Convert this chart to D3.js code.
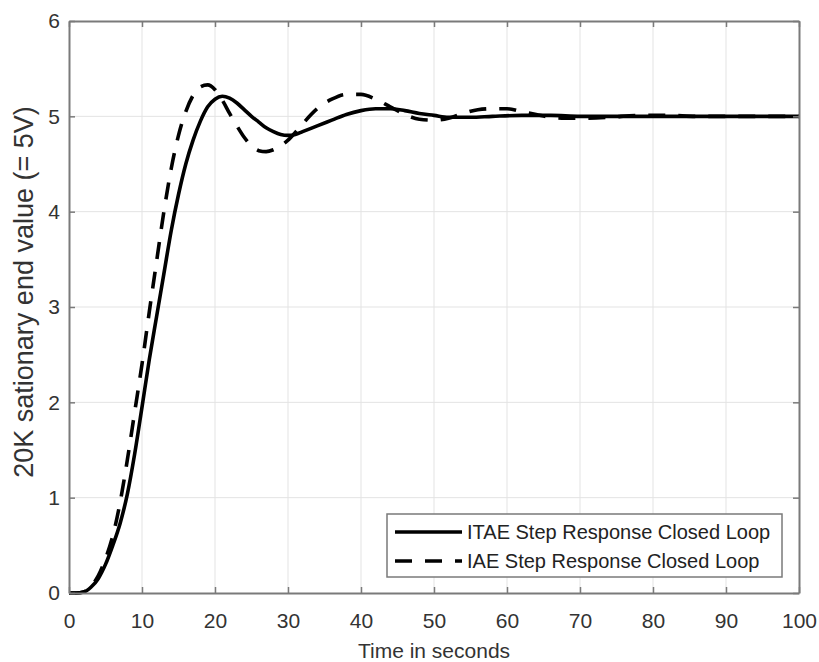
<!DOCTYPE html>
<html lang="en">
<head>
  <meta charset="UTF-8">
  <title>Step Response Closed Loop</title>
  <script src="https://d3js.org/d3.v7.min.js"></script>
  <style>
    body { margin: 0; background: #fff; }
    svg { font-family: "Liberation Sans", Arial, sans-serif; }
  </style>
</head>
<body>
<div id="chart"></div>
<script>
  // time axis samples (seconds) and values (V)
  const itaeTime = [0, 1, 2, 3, 4, 5, 6, 7, 8, 9, 10, 11, 12, 13, 14, 15, 16, 17, 18, 19, 20, 21, 22, 23, 24, 25, 26, 27, 28, 29, 30, 31, 32, 34, 36, 38, 40, 42, 44, 46, 48, 50, 52, 55, 58, 62, 66, 70, 80, 90, 100];
  const itaeValue = [0, 0, 0.01, 0.06, 0.15, 0.3, 0.5, 0.73, 1.04, 1.46, 1.95, 2.45, 2.9, 3.35, 3.8, 4.18, 4.5, 4.75, 4.95, 5.1, 5.18, 5.21, 5.19, 5.14, 5.07, 5.0, 4.94, 4.88, 4.84, 4.81, 4.8, 4.81, 4.84, 4.9, 4.96, 5.02, 5.06, 5.08, 5.08, 5.06, 5.03, 5.01, 4.99, 4.99, 5.0, 5.01, 5.01, 5.0, 5.0, 5.0, 5.0];

  const iaeTime = [0, 1, 2, 3, 4, 5, 6, 7, 8, 9, 10, 11, 12, 13, 14, 15, 16, 17, 18, 19, 20, 21, 22, 23, 24, 25, 26, 27, 28, 29, 30, 31, 32, 34, 36, 38, 40, 42, 44, 46, 48, 50, 52, 54, 56, 58, 60, 62, 64, 66, 68, 70, 74, 78, 82, 86, 100];
  const iaeValue = [0, 0, 0.01, 0.07, 0.18, 0.36, 0.6, 0.95, 1.4, 1.9, 2.4, 2.95, 3.48, 4.0, 4.45, 4.8, 5.05, 5.22, 5.31, 5.33, 5.28, 5.17, 5.03, 4.9, 4.78, 4.69, 4.64, 4.63, 4.65, 4.69, 4.75, 4.83, 4.92, 5.08, 5.18, 5.23, 5.23, 5.18, 5.1, 5.02, 4.97, 4.96, 4.98, 5.03, 5.07, 5.08, 5.08, 5.05, 5.02, 4.99, 4.98, 4.98, 4.99, 5.01, 5.01, 5.0, 5.0];

  const xTicks = [0, 10, 20, 30, 40, 50, 60, 70, 80, 90, 100];
  const yTicks = [0, 1, 2, 3, 4, 5, 6];
  const seriesNames = ["ITAE Step Response Closed Loop", "IAE Step Response Closed Loop"];

  const W = 819, H = 662;
  const margin = { top: 21, right: 20, bottom: 69, left: 69 };
  const width = W - margin.left - margin.right,
        height = H - margin.top - margin.bottom;

  const svg = d3.select("#chart").append("svg")
    .attr("width", W)
    .attr("height", H);

  const g = svg.append("g")
    .attr("transform", `translate(${margin.left},${margin.top})`);

  const x = d3.scaleLinear().domain([0, 100]).range([0, width]);
  const y = d3.scaleLinear().domain([0, 6]).range([height, 0]);

  const axisColor = "#7a7a7a";

  // grid
  g.append("g").selectAll("line")
    .data(xTicks.slice(1, -1))
    .join("line")
    .attr("x1", d => x(d)).attr("x2", d => x(d))
    .attr("y1", 0).attr("y2", height)
    .attr("stroke", "#e3e3e3").attr("stroke-width", 1);
  g.append("g").selectAll("line")
    .data(yTicks.slice(1, -1))
    .join("line")
    .attr("y1", d => y(d)).attr("y2", d => y(d))
    .attr("x1", 0).attr("x2", width)
    .attr("stroke", "#e3e3e3").attr("stroke-width", 1);

  // curves
  const line = d3.line()
    .x(d => x(d[0]))
    .y(d => y(d[1]))
    .curve(d3.curveMonotoneX);

  const itae = itaeTime.map((t, i) => [t, itaeValue[i]]);
  const iae = iaeTime.map((t, i) => [t, iaeValue[i]]);

  g.append("path")
    .datum(itae)
    .attr("fill", "none")
    .attr("stroke", "#000")
    .attr("stroke-width", 3.6)
    .attr("d", line);

  g.append("path")
    .datum(iae)
    .attr("fill", "none")
    .attr("stroke", "#000")
    .attr("stroke-width", 3.6)
    .attr("stroke-dasharray", "17,13")
    .attr("d", line);

  // axes (MATLAB style: inward ticks on all four sides)
  const fontSize = "21px";
  const axBottom = g.append("g")
    .attr("transform", `translate(0,${height})`)
    .call(d3.axisBottom(x).tickValues(xTicks).tickSizeInner(-6).tickSizeOuter(0).tickPadding(20));
  const axTop = g.append("g")
    .call(d3.axisTop(x).tickValues(xTicks).tickSizeInner(-6).tickSizeOuter(0).tickFormat(""));
  const axLeft = g.append("g")
    .call(d3.axisLeft(y).tickValues(yTicks).tickSizeInner(-6).tickSizeOuter(0).tickPadding(9).tickFormat(d3.format("d")));
  const axRight = g.append("g")
    .attr("transform", `translate(${width},0)`)
    .call(d3.axisRight(y).tickValues(yTicks).tickSizeInner(-6).tickSizeOuter(0).tickFormat(""));

  [axBottom, axTop, axLeft, axRight].forEach(a => {
    a.select(".domain").attr("stroke", axisColor).attr("stroke-width", 2);
    a.selectAll(".tick line").attr("stroke", axisColor).attr("stroke-width", 1.5);
    a.selectAll(".tick text")
      .attr("fill", "#333")
      .style("font-size", fontSize)
      .style("font-family", "'Liberation Sans', Arial, sans-serif");
  });

  // axis labels
  g.append("text")
    .attr("x", width / 2)
    .attr("y", 658 - margin.top)
    .attr("text-anchor", "middle")
    .attr("fill", "#333")
    .style("font-size", fontSize)
    .text("Time in seconds");

  g.append("text")
    .attr("transform", `translate(${33 - margin.left},${292 - margin.top}) rotate(-90)`)
    .attr("text-anchor", "middle")
    .attr("fill", "#333")
    .style("font-size", "27px")
    .text("20K sationary end value (= 5V)");

  // legend
  const legend = g.append("g")
    .attr("transform", `translate(${387 - margin.left},${514 - margin.top})`);
  legend.append("rect")
    .attr("width", 395).attr("height", 63)
    .attr("fill", "#fff")
    .attr("stroke", axisColor)
    .attr("stroke-width", 1.5);
  seriesNames.forEach((name, i) => {
    const ly = 18 + i * 29;
    legend.append("line")
      .attr("x1", 8).attr("x2", 75)
      .attr("y1", ly).attr("y2", ly)
      .attr("stroke", "#000")
      .attr("stroke-width", 3.6)
      .attr("stroke-dasharray", i === 0 ? null : "17,13");
    legend.append("text")
      .attr("x", 80)
      .attr("y", ly)
      .attr("dy", "0.35em")
      .attr("fill", "#222")
      .style("font-size", "20px")
      .text(name);
  });
</script>
</body>
</html>
